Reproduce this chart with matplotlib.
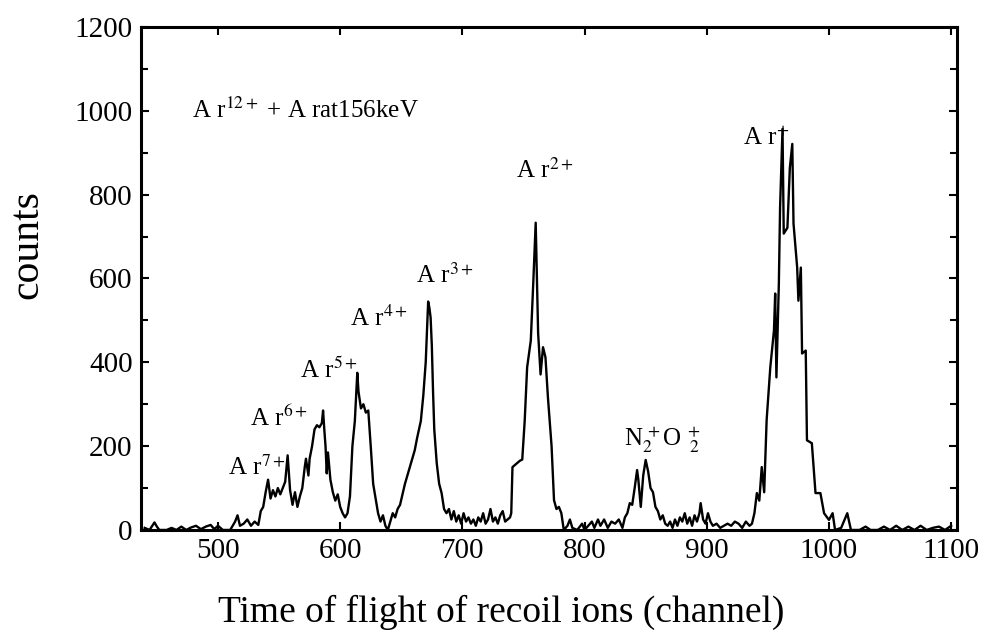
import matplotlib.pyplot as plt
from matplotlib.ticker import MultipleLocator

# spectrum (channel, counts)
channel = [440, 444, 448, 450, 452, 458, 462, 466, 470, 474, 478, 482, 486, 490, 494, 497,
           500, 504, 510, 514, 516, 518, 521, 524, 527, 530, 533, 535, 537, 539, 541, 543,
           545, 547, 549, 551, 553, 555, 557, 559, 561, 563, 565, 567, 569, 571, 572, 574,
           575, 577, 579, 581, 583, 585, 586, 587, 588, 589, 590, 592, 594, 596, 598, 600,
           602, 604, 606, 608, 610, 612, 614, 615, 617, 619, 621, 623, 625, 627, 629, 631,
           633, 635, 637, 639, 641, 643, 645, 647, 649, 651, 653, 655, 657, 659, 661, 663,
           666, 668, 670, 671, 672, 673, 674, 675, 676, 677, 679, 681, 683, 685, 687, 689,
           691, 693, 695, 697, 699, 701, 703, 705, 707, 709, 711, 713, 715, 717, 719, 721,
           723, 725, 727, 729, 731, 733, 735, 737, 739, 740, 741, 743, 745, 747, 749, 751,
           753, 756, 758, 760, 761, 762, 764, 766, 768, 770, 772, 773, 775, 777, 779, 781,
           783, 786, 788, 790, 794, 798, 800, 803, 806, 808, 811, 813, 816, 819, 822, 825,
           828, 831, 833, 835, 837, 839, 841, 843, 844, 846, 848, 850, 852, 854, 856, 858,
           860, 862, 864, 866, 868, 870, 872, 874, 876, 878, 880, 882, 884, 886, 888, 890,
           892, 894, 895, 897, 899, 901, 903, 905, 908, 911, 914, 917, 920, 923, 926, 929,
           932, 935, 937, 939, 941, 943, 945, 947, 949, 952, 955, 956, 957, 959, 960, 962,
           963, 966, 968, 970, 971, 974, 975, 977, 978, 981, 982, 986, 989, 993, 996, 1000,
           1003, 1005, 1010, 1015, 1018, 1025, 1030, 1034, 1040, 1045, 1050, 1055, 1060, 1065, 1070, 1075,
           1080, 1085, 1090, 1095, 1100]
counts = [5, 0, 18, 8, 0, 0, 5, 0, 8, 0, 6, 10, 2, 8, 12, 2,
          10, 0, 0, 20, 35, 10, 15, 25, 10, 20, 12, 45, 55, 90, 120, 75,
          95, 80, 100, 85, 100, 115, 178, 95, 60, 90, 55, 80, 100, 150, 170, 130,
          170, 200, 240, 250, 245, 255, 285, 240, 200, 135, 185, 120, 90, 70, 85, 55,
          40, 30, 40, 80, 200, 260, 375, 330, 290, 300, 280, 285, 200, 110, 75, 40,
          20, 35, 10, 0, 20, 40, 30, 50, 60, 85, 110, 130, 150, 170, 190, 220,
          260, 320, 400, 470, 545, 530, 507, 440, 330, 240, 160, 110, 88, 50, 40, 50,
          25, 45, 20, 35, 15, 40, 20, 30, 15, 25, 10, 30, 20, 40, 15, 25,
          50, 20, 30, 15, 35, 45, 20, 25, 30, 40, 150, 155, 160, 165, 168, 260,
          388, 452, 588, 733, 600, 469, 371, 436, 412, 317, 240, 200, 71, 50, 55, 40,
          0, 10, 25, 5, 0, 15, 0, 10, 20, 5, 25, 10, 25, 5, 20, 15,
          25, 5, 30, 40, 64, 60, 100, 143, 120, 55, 130, 167, 140, 100, 90, 55,
          45, 25, 35, 15, 10, 20, 5, 25, 10, 30, 20, 40, 15, 30, 10, 35,
          20, 40, 64, 25, 15, 40, 20, 10, 15, 5, 10, 15, 10, 20, 15, 5,
          20, 10, 15, 40, 88, 70, 150, 90, 262, 388, 476, 564, 364, 588, 769, 957,
          707, 721, 864, 921, 731, 626, 547, 626, 421, 428, 214, 207, 88, 88, 40, 24,
          40, 0, 5, 40, 0, 0, 8, 0, 0, 8, 0, 10, 0, 8, 0, 10,
          0, 5, 8, 0, 10]

# peak labels: text, x (channel), y (counts)
peak_text = [r'A r$^{2+}$', r'A r$^{3+}$', r'A r$^{4+}$', r'A r$^{5+}$',
             r'A r$^{6+}$', r'A r$^{7+}$', r'A r$^{+}$', r'N$_2^{\,+}$O$^{\ +}_{\ \ 2}$']
peak_x = [744, 662, 608, 567, 526, 508, 930, 832]
peak_y = [857, 607, 505, 381, 267, 148, 935, 214]

plt.rcParams['font.family'] = 'Liberation Serif'
plt.rcParams['mathtext.fontset'] = 'stix'

fig = plt.figure(figsize=(9.93, 6.42), dpi=100)
ax = fig.add_axes([0.142, 0.1745, 0.822, 0.7835])

ax.plot(channel, counts, color='black', lw=1.7)

ax.set_xlim(437, 1105)
ax.set_ylim(0, 1200)
ax.set_xticks([500, 600, 700, 800, 900, 1000, 1100])
ax.set_yticks([0, 200, 400, 600, 800, 1000, 1200])
ax.yaxis.set_minor_locator(MultipleLocator(100))
ax.tick_params(which='both', direction='in', top=True, right=True,
               labelsize=21, width=1.5, pad=6)
ax.tick_params(which='major', length=6)
ax.tick_params(which='minor', length=5)
for s in ax.spines.values():
    s.set_linewidth(2.2)

ax.text(479, 1000, r'A r$^{12+}$ + A rat156keV', fontsize=18, va='center', ha='left')
for t, x, y in zip(peak_text, peak_x, peak_y):
    ax.text(x, y, t, fontsize=18, va='center', ha='left')

fig.text(0.027, 1 - 245 / 642, 'counts', rotation=90, fontsize=30, ha='center', va='center')
fig.text(0.505, 1 - 612 / 642, 'Time of flight of recoil ions (channel)', fontsize=27,
         ha='center', va='center')

fig.savefig('out.png', dpi=100)
